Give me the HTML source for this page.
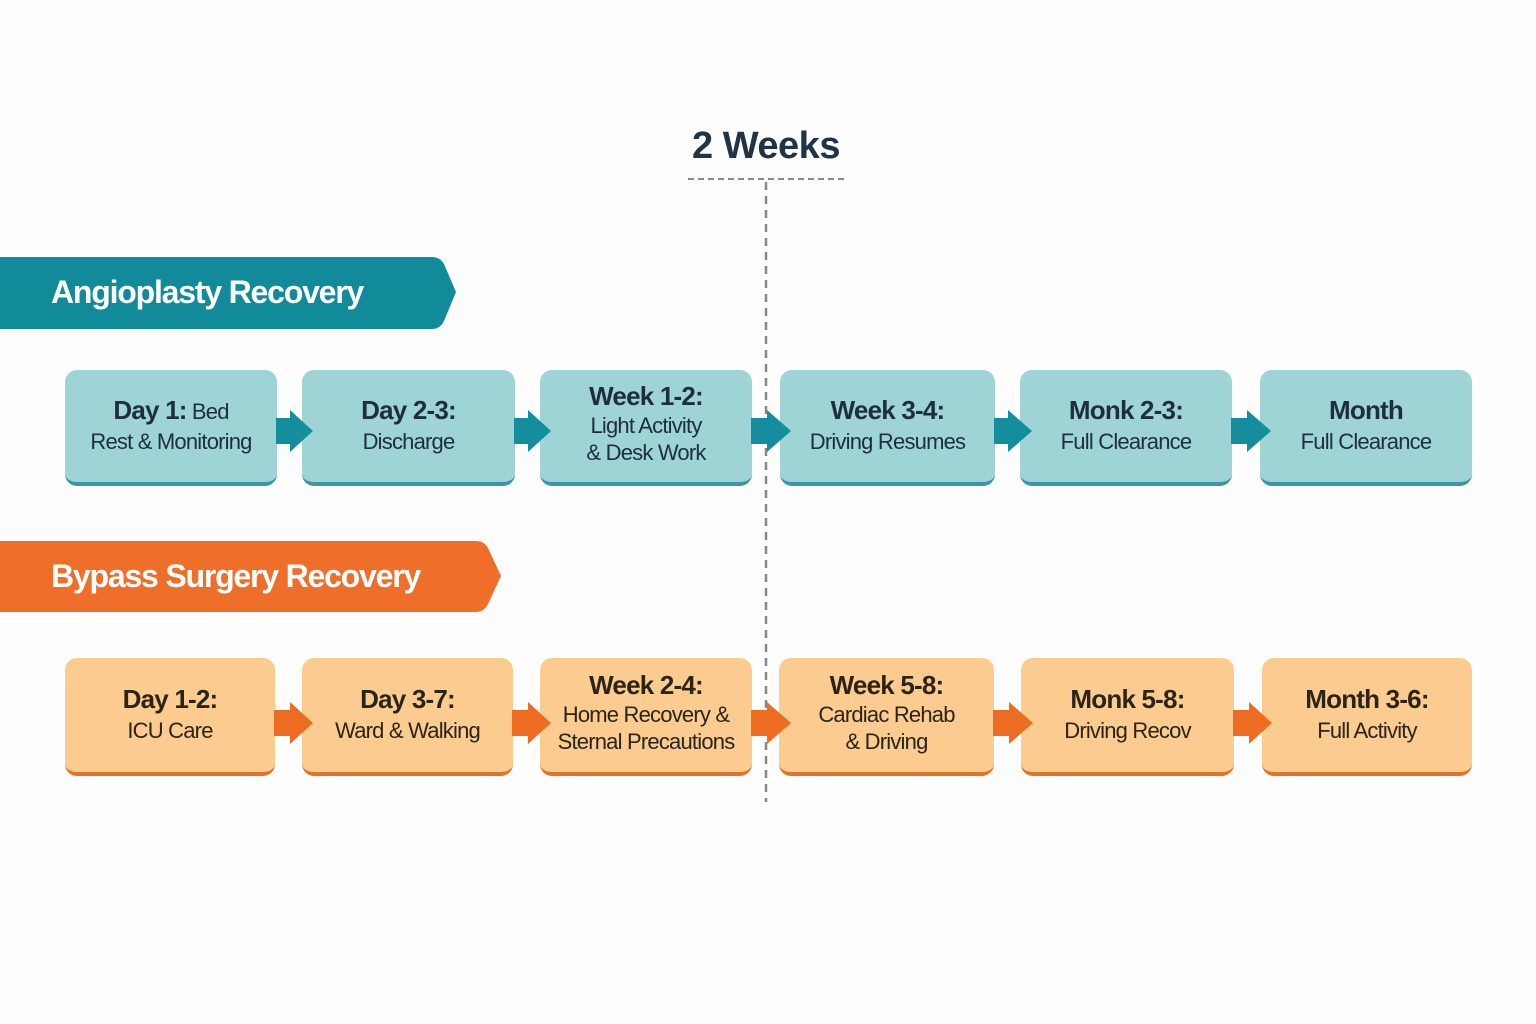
<!DOCTYPE html>
<html><head><meta charset="utf-8"><style>
body{margin:0;width:1536px;height:1024px;background:#fdfdfd;position:relative;overflow:hidden;font-family:"Liberation Sans",sans-serif;}
.b{position:absolute;border-radius:12px;display:flex;flex-direction:column;align-items:center;justify-content:center;text-align:center;box-sizing:border-box;color:#1c2e40;font-size:22px;line-height:27px;letter-spacing:-0.8px;padding-bottom:6px}
.t{background:#9fd4d7;border-bottom:4px solid #3c96a6;}
.o{background:#fccb90;border-bottom:4px solid #e2742a;color:#2b2418}
.b b{font-size:26px;line-height:36px}
.ban{position:absolute;left:0;color:#fff;font-weight:bold;font-size:32px;letter-spacing:-1.2px;}
svg{z-index:2}
</style></head><body>
<div style="position:absolute;left:666px;top:125px;width:200px;text-align:center;font-size:38px;font-weight:bold;color:#1f3447;letter-spacing:-0.5px">2 Weeks</div>
<div class="ban" style="top:274px;left:51px">Angioplasty Recovery</div>
<div class="ban" style="top:558px;left:51px">Bypass Surgery Recovery</div>

<div class="b t" style="left:65px;top:370px;width:212px;height:116px"><div><b>Day 1:</b> Bed</div><div>Rest &amp; Monitoring</div></div>
<div class="b t" style="left:302px;top:370px;width:213px;height:116px"><b>Day 2-3:</b><div>Discharge</div></div>
<div class="b t" style="left:540px;top:370px;width:212px;height:116px"><b style="line-height:32px">Week 1-2:</b><div>Light Activity</div><div>&amp; Desk Work</div></div>
<div class="b t" style="left:780px;top:370px;width:215px;height:116px"><b>Week 3-4:</b><div>Driving Resumes</div></div>
<div class="b t" style="left:1020px;top:370px;width:212px;height:116px"><b>Monk 2-3:</b><div>Full Clearance</div></div>
<div class="b t" style="left:1260px;top:370px;width:212px;height:116px"><b>Month</b><div>Full Clearance</div></div>

<div class="b o" style="left:65px;top:658px;width:210px;height:118px"><b>Day 1-2:</b><div>ICU Care</div></div>
<div class="b o" style="left:302px;top:658px;width:211px;height:118px"><b>Day 3-7:</b><div>Ward &amp; Walking</div></div>
<div class="b o" style="left:540px;top:658px;width:212px;height:118px"><b style="line-height:32px">Week 2-4:</b><div>Home Recovery &amp;</div><div>Sternal Precautions</div></div>
<div class="b o" style="left:779px;top:658px;width:215px;height:118px"><b style="line-height:32px">Week 5-8:</b><div>Cardiac Rehab</div><div>&amp; Driving</div></div>
<div class="b o" style="left:1021px;top:658px;width:213px;height:118px"><b>Monk 5-8:</b><div>Driving Recov</div></div>
<div class="b o" style="left:1262px;top:658px;width:210px;height:118px"><b>Month 3-6:</b><div>Full Activity</div></div>

<svg width="1536" height="1024" style="position:absolute;left:0;top:0;pointer-events:none">
<line x1="688" y1="179" x2="846" y2="179" stroke="#888" stroke-width="2" stroke-dasharray="6,4"/>
<line x1="766" y1="182" x2="766" y2="802" stroke="#888" stroke-width="2.5" stroke-dasharray="8,6"/>
<path d="M0 257 H432 Q440 257 444 264 L456 292 L444 321 Q440 329 432 329 H0Z" fill="#118a9a"/>
<path d="M0 541 H476 Q484 541 488 548 L501 576 L488 604 Q484 612 476 612 H0Z" fill="#ef6f2a"/>
<g fill="#148d9c">
<polygon points="276,418 290,418 290,410 313,431 290,452 290,444 276,444"/>
<polygon points="514,418 528,418 528,410 551,431 528,452 528,444 514,444"/>
<polygon points="751,418 767,418 767,410 791,431 767,452 767,444 751,444"/>
<polygon points="994,418 1008,418 1008,410 1032,431 1008,452 1008,444 994,444"/>
<polygon points="1231,418 1247,418 1247,410 1271,431 1247,452 1247,444 1231,444"/>
</g>
<g fill="#ec6d22">
<polygon points="274,710 290,710 290,702 313,723 290,744 290,736 274,736"/>
<polygon points="512,710 528,710 528,702 551,723 528,744 528,736 512,736"/>
<polygon points="751,710 767,710 767,702 791,723 767,744 767,736 751,736"/>
<polygon points="993,710 1009,710 1009,702 1033,723 1009,744 1009,736 993,736"/>
<polygon points="1233,710 1249,710 1249,702 1272,723 1249,744 1249,736 1233,736"/>
</g>
</svg>
<div class="ban" style="top:274px;left:51px;z-index:3">Angioplasty Recovery</div>
<div class="ban" style="top:558px;left:51px;z-index:3">Bypass Surgery Recovery</div>
</body></html>
